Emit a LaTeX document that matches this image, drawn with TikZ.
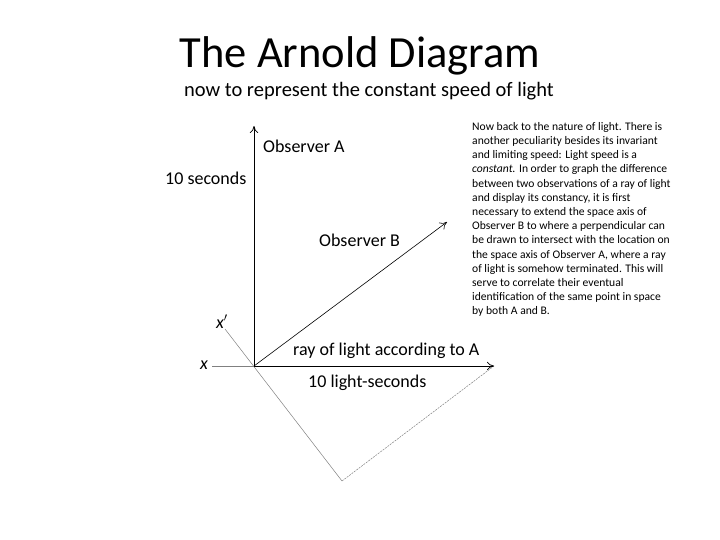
\documentclass[tikz,border=0pt]{standalone}
\usepackage{fontspec}
\setmainfont{Carlito}
\usetikzlibrary{arrows.meta}

\tikzset{
	axis/.style={thick, -{To[length=2.5mm,width=3mm]}},
	thinaxis/.style={line width=0.5pt, color=gray},
	lbl/.style={font=\fontsize{18}{20}\selectfont, inner sep=0pt, anchor=base west},
}

\begin{document}
\begin{tikzpicture}[x=1pt, y=-1pt]
	\useasboundingbox (0, 0) rectangle (720, 540);

	% titles
	\node[font=\fontsize{44.5}{47}\selectfont, anchor=base] (title) at (360, 68) {The Arnold Diagram};
	\node[font=\fontsize{20.5}{23}\selectfont, anchor=base] (subtitle) at (369, 97) {now to represent the constant speed of light};

	% points
	\coordinate (O) at (254, 366);
	\coordinate (top) at (254, 126);
	\coordinate (xend) at (494, 366);
	\coordinate (bend) at (447, 222);
	\coordinate (xstart) at (212, 366);
	\coordinate (xpstart) at (225, 329);
	\coordinate (corner) at (342, 481);

	% axes of B
	\draw[thinaxis] (xpstart) -- (corner);
	\draw[thinaxis, dash pattern=on 2pt off 1pt] (corner) -- (xend);

	% axes of A
	\draw[thinaxis] (xstart) -- (O);
	\draw[axis] (O) -- (top);
	\draw[axis] (O) -- (xend);
	\draw[axis, semithick] (O) -- (bend);

	% labels
	\node[lbl, font=\fontsize{18}{20}\selectfont\itshape] (xlbl) at (200, 369) {x};
	\node[lbl, font=\fontsize{18}{20}\selectfont\itshape] (xplbl) at (216, 328) {x$'$};
	\node[lbl] (obsA) at (263, 153) {Observer A};
	\node[lbl] (sec) at (165, 185) {10 seconds};
	\node[lbl] (obsB) at (319, 247) {Observer B};
	\node[lbl] (ray) at (293, 355) {ray of light according to A};
	\node[lbl] (lsec) at (308, 387) {10 light-seconds};

	% explanation
	\node[font=\fontsize{11.6}{14.2}\selectfont, align=left, anchor=north west, inner sep=0pt] (note) at (472, 122) {Now back to the nature of light. There is\\
		another peculiarity besides its invariant\\
		and limiting speed: Light speed is a\\
		\textit{constant.} In order to graph the difference\\
		between two observations of a ray of light\\
		and display its constancy, it is first\\
		necessary to extend the space axis of\\
		Observer B to where a perpendicular can\\
		be drawn to intersect with the location on\\
		the space axis of Observer A, where a ray\\
		of light is somehow terminated. This will\\
		serve to correlate their eventual\\
		identification of the same point in space\\
		by both A and B.};
\end{tikzpicture}
\end{document}
